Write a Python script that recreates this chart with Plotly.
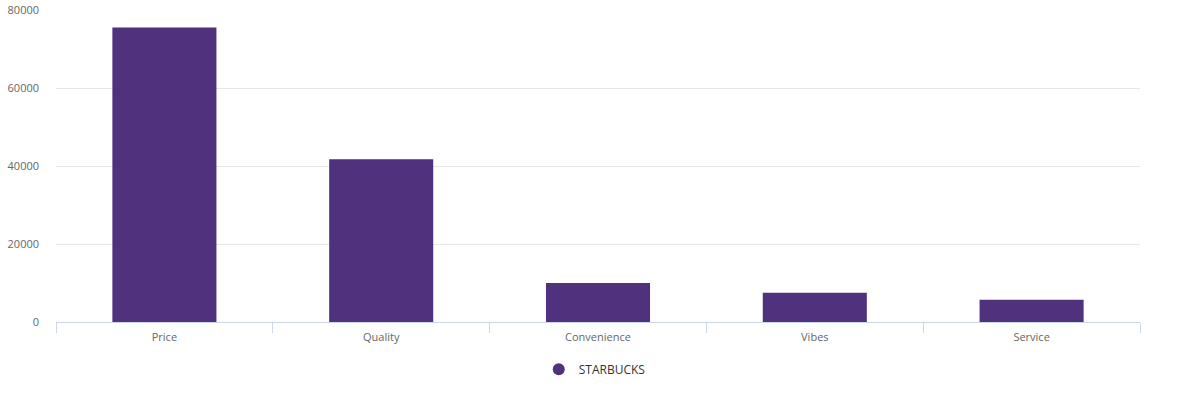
import plotly.graph_objects as go

# Chart data
categories = ["Price", "Quality", "Convenience", "Vibes", "Service"]
starbucks = [75500, 41700, 10000, 7500, 5700]
series_name = "STARBUCKS"
bar_color = "#4f317e"

fig = go.Figure()
fig.add_trace(go.Bar(
    x=categories,
    y=starbucks,
    name=series_name,
    marker=dict(color=bar_color, line=dict(width=0)),
    showlegend=False,
))
# Legend entry with a round symbol, as in the original.
fig.add_trace(go.Scatter(
    x=[None],
    y=[None],
    mode="markers",
    name=series_name,
    marker=dict(symbol="circle", size=12, color=bar_color),
))

fig.update_layout(
    width=1190,
    height=400,
    margin=dict(l=56, r=50, t=10, b=78),
    plot_bgcolor="white",
    paper_bgcolor="white",
    font=dict(family="Open Sans, sans-serif", size=11, color="#666666"),
    bargap=0.52,
    showlegend=True,
    legend=dict(
        orientation="h",
        x=0.497,
        xanchor="center",
        y=-0.105,
        yanchor="top",
        font=dict(size=12, color="#333333"),
        itemsizing="constant",
    ),
)
fig.update_xaxes(
    showline=True,
    linecolor="#ccd6eb",
    linewidth=1,
    ticks="outside",
    tickson="boundaries",
    ticklen=10,
    tickcolor="#ccd6eb",
    showgrid=False,
    automargin=False,
    ticklabelstandoff=5,
    tickfont=dict(size=11, color="#666666"),
)
fig.update_yaxes(
    range=[0, 80000],
    dtick=20000,
    showgrid=True,
    gridcolor="#e6e6e6",
    zeroline=False,
    showline=False,
    tickformat="d",
    ticks="",
    automargin=False,
    ticklabelstandoff=16,
    tickfont=dict(size=11, color="#666666"),
)

# Drop the page's default body margin so the chart sits at the window corner.
fig.write_html(
    "out.html",
    config={"displayModeBar": False},
    post_script="document.body.style.margin='0';",
)
